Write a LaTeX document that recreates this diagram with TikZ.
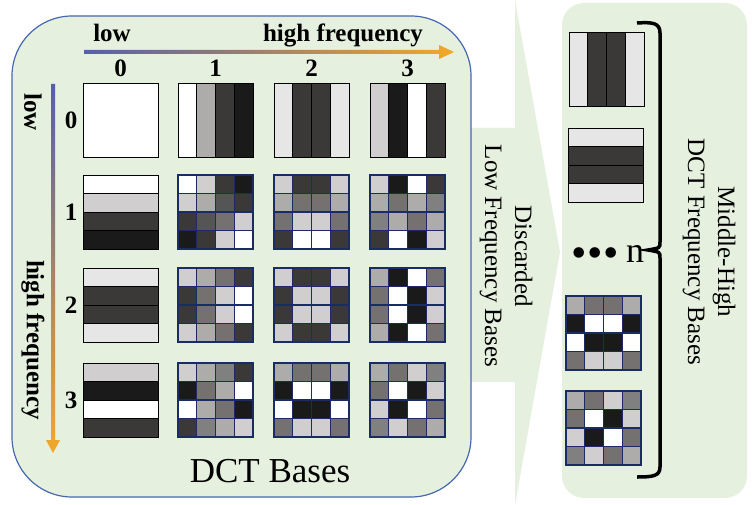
\documentclass[tikz,border=0pt]{standalone}
\usepackage{fontspec}
\setmainfont{Liberation Serif}
\usepackage{tikz}
\usetikzlibrary{positioning}

\definecolor{panelgreen}{RGB}{229,240,222}
\definecolor{panelblue}{RGB}{70,105,175}
\definecolor{cellnavy}{RGB}{25,45,100}
\definecolor{axisblue}{RGB}{85,95,170}
\definecolor{axispink}{RGB}{235,60,110}
\definecolor{axisorange}{RGB}{242,168,40}
% grey levels of the basis images
\definecolor{gW}{RGB}{255,255,255}
\definecolor{gE}{RGB}{230,230,230}
\definecolor{gL}{RGB}{208,206,206}
\definecolor{gM}{RGB}{174,171,171}
\definecolor{gG}{RGB}{118,113,113}
\definecolor{gH}{RGB}{128,128,128}
\definecolor{gN}{RGB}{85,85,85}
\definecolor{gD}{RGB}{59,56,56}
\definecolor{gK}{RGB}{26,26,26}

% basis image: vertical stripes, left to right
\newcommand{\vstripes}[3]{%
  \foreach \col [count=\k from 0] in {#3}
    \draw[stripe, fill=\col] ({#1+\k*18.75},#2) rectangle ++(18.75,74);
}
% basis image: horizontal stripes, top to bottom
\newcommand{\hstripes}[3]{%
  \foreach \col [count=\k from 0] in {#3}
    \draw[stripe, fill=\col] (#1,{#2+\k*18.5}) rectangle ++(75,18.5);
}
% basis image: 4x4 blocks, row by row
\newcommand{\checker}[3]{%
  \foreach \col [count=\k from 0] in {#3} {
    \pgfmathtruncatemacro\rw{\k/4}
    \pgfmathtruncatemacro\cl{mod(\k,4)}
    \draw[block, fill=\col] ({#1+\cl*18.75},{#2+\rw*18.5}) rectangle ++(18.75,18.5);
  }
}

\begin{document}
\begin{tikzpicture}[x=1pt, y=-1pt,
    lbl/.style = {font=\bfseries\fontsize{25}{30}\selectfont},
    note/.style = {font=\fontsize{25}{30}\selectfont, align=center},
    stripe/.style = {draw=black, line width=0.8pt},
    block/.style = {draw=cellnavy, line width=1.1pt}]
    \useasboundingbox (0,0) rectangle (755,505);

    % arrow-like band to the right panel
    \fill[panelgreen] (465,128) -- (515,128) -- (515,0) -- (560,252) -- (515,505) -- (515,382) -- (465,382) -- cycle;
    % panels
    \draw[panelblue, line width=1.2pt, fill=panelgreen, rounded corners=60pt] (12,16) rectangle (471,497);
    \fill[panelgreen, rounded corners=22pt] (562,3) rectangle (747,498);

    % frequency axes
    \shade[left color=axisblue, middle color=axispink, right color=axisorange]
        (84,50) -- (439,50) -- (439,45) -- (454,52) -- (439,59) -- (439,54) -- (84,54) -- cycle;
    \shade[top color=axisblue, middle color=axispink, bottom color=axisorange]
        (51,84) -- (51,440) -- (46,440) -- (53,453) -- (60,440) -- (55,440) -- (55,84) -- cycle;
    \node[lbl, anchor=base] (lowx) at (112,42) {low};
    \node[lbl, anchor=base] (highx) at (343,42) {high frequency};
    \node[lbl, rotate=-90] (lowy) at (33,112) {low};
    \node[lbl, rotate=-90] (highy) at (33,340) {high frequency};

    % column and row indices
    \foreach \i/\x in {0/120.5, 1/215.5, 2/311.5, 3/407.5}
        \node[lbl, anchor=base] (col\i) at (\x,77) {\i};
    \foreach \i/\y in {0/120, 1/212, 2/305, 3/400}
        \node[lbl] (row\i) at (71,\y) {\i};

    % DCT basis images
    \draw[stripe, fill=gW] (83,83) rectangle ++(75,74);
    \vstripes{178}{83}{gW,gM,gD,gK}
    \vstripes{274}{83}{gE,gD,gD,gE}
    \vstripes{370}{83}{gL,gK,gW,gD}
    \hstripes{83}{175}{gW,gL,gD,gK}
    \hstripes{83}{268}{gE,gD,gD,gE}
    \hstripes{83}{363}{gL,gK,gW,gD}
    \checker{178}{175}{gW,gL,gD,gK, gL,gM,gN,gD, gD,gN,gG,gL, gK,gD,gL,gW}
    \checker{274}{175}{gL,gD,gD,gL, gM,gG,gG,gM, gG,gL,gL,gG, gD,gW,gW,gD}
    \checker{370}{175}{gL,gK,gW,gD, gM,gG,gM,gH, gH,gM,gG,gM, gD,gW,gK,gL}
    \checker{178}{268}{gL,gM,gG,gD, gD,gG,gL,gW, gD,gG,gL,gW, gL,gM,gG,gD}
    \checker{274}{268}{gL,gD,gD,gL, gD,gL,gL,gD, gD,gL,gL,gD, gL,gD,gD,gL}
    \checker{370}{268}{gM,gK,gW,gG, gG,gW,gK,gL, gG,gW,gK,gL, gM,gK,gW,gG}
    \checker{178}{363}{gL,gM,gH,gD, gK,gG,gM,gW, gW,gM,gG,gK, gD,gH,gM,gL}
    \checker{274}{363}{gM,gG,gG,gM, gK,gW,gW,gK, gW,gK,gK,gW, gG,gL,gL,gG}
    \checker{370}{363}{gM,gG,gL,gH, gG,gW,gK,gL, gL,gK,gW,gG, gH,gL,gG,gM}
    \node[font=\fontsize{35}{40}\selectfont, anchor=base] (title) at (270,482) {DCT Bases};

    % discarded part
    \node[note, rotate=-90] (discard) at (506,256) {Discarded\\Low Frequency Bases};

    % kept bases
    \vstripes{569}{32}{gE,gD,gD,gE}
    \hstripes{568}{128}{gE,gD,gD,gE}
    \checker{566}{296}{gM,gG,gG,gM, gK,gW,gW,gK, gW,gK,gK,gW, gG,gL,gL,gG}
    \checker{566}{391}{gM,gG,gL,gH, gG,gW,gK,gL, gL,gK,gW,gG, gH,gL,gG,gM}
    \node[font=\fontsize{44}{48}\selectfont, inner sep=0pt] (dots) at (595,258) {\textbullet\hspace{0.5pt}\textbullet\hspace{0.5pt}\textbullet};
    \node[font=\fontsize{36}{40}\selectfont, anchor=base] (num) at (635,262) {n};
    \draw[line width=3.5pt] (637,23) .. controls (653,22) and (660,23) .. (660,33) -- (660,242)
        .. controls (660,248) .. (648,250) .. controls (660,252) .. (660,258) -- (660,467)
        .. controls (660,476) and (653,477) .. (637,477);
    \node[note, rotate=-90] (kept) at (709,252) {Middle-High\\DCT Frequency Bases};
\end{tikzpicture}
\end{document}
